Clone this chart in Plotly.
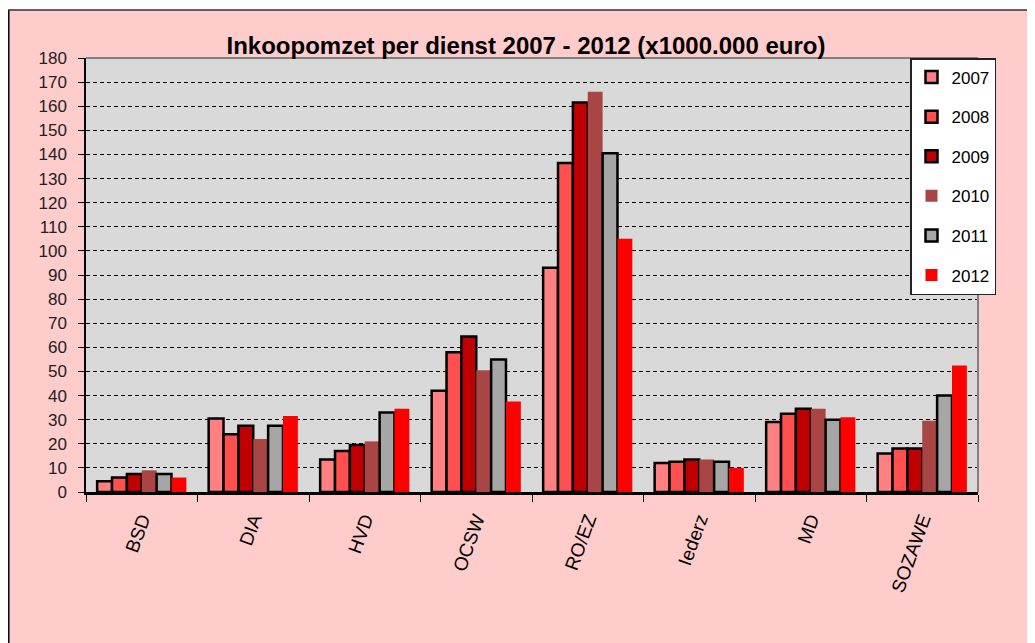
import plotly.graph_objects as go

categories = ["BSD", "DIA", "HVD", "OCSW", "RO/EZ", "Iederz", "MD", "SOZAWE"]
years = ["2007", "2008", "2009", "2010", "2011", "2012"]

v2007 = [4.5, 30.5, 13.5, 42, 93, 12, 29, 16]
v2008 = [6, 24, 17, 58, 136.5, 12.5, 32.5, 18]
v2009 = [7.5, 27.5, 19.5, 64.5, 161.5, 13.5, 34.5, 18]
v2010 = [9, 22, 21, 50.5, 166, 13.5, 34.5, 29.5]
v2011 = [7.5, 27.5, 33, 55, 140.5, 12.5, 30, 40]
v2012 = [6, 31.5, 34.5, 37.5, 105, 10, 31, 52.5]

series = [v2007, v2008, v2009, v2010, v2011, v2012]
colors = ["#FF8080", "#FF5050", "#C00000", "#A94545", "#A6A6A6", "#FF0000"]
outlined = [True, True, True, False, True, False]

ytick_vals = list(range(0, 181, 10))

# page has an 8px body margin; work in screen pixels and convert
OFF = 8
SW, SH = 1035, 643
W, H = SW - OFF, SH - OFF
SL, SR, ST, SB = 86, 978, 58, 492  # plot area in screen pixels


def px_x(p):
    return (p - SL) / (SR - SL)


def px_y(p):
    return (SB - p) / (SB - ST)


fig = go.Figure()
for i, (yr, vals) in enumerate(zip(years, series)):
    fig.add_trace(go.Bar(
        x=categories, y=vals, name=yr, legendgroup=yr,
        marker=dict(color=colors[i],
                    line=dict(color="#000000" if outlined[i] else colors[i],
                              width=2.5 if outlined[i] else 0)),
    ))

font_family = "Liberation Sans, Arial, sans-serif"

shapes = [
    dict(type="rect", xref="paper", yref="paper", x0=px_x(0), x1=px_x(1040), y0=px_y(10), y1=px_y(0),
         fillcolor="white", line=dict(width=0), layer="above"),
    dict(type="line", xref="paper", yref="paper", x0=px_x(8.8), x1=px_x(8.8), y0=px_y(650), y1=px_y(10),
         line=dict(color="black", width=1.5), layer="above"),
    dict(type="line", xref="paper", yref="paper", x0=px_x(8), x1=px_x(1040), y0=px_y(10), y1=px_y(10),
         line=dict(color="#333333", width=1.5), layer="above"),
    dict(type="line", xref="paper", yref="paper", x0=0, x1=1, y0=1, y1=1,
         line=dict(color="#808080", width=2), layer="above"),
    dict(type="line", xref="paper", yref="paper", x0=1, x1=1, y0=0, y1=1,
         line=dict(color="#808080", width=2), layer="above"),
]

fig.update_layout(
    width=W, height=H,
    margin=dict(l=SL - OFF, r=SW - SR, t=ST - OFF, b=SH - SB, pad=0),
    paper_bgcolor="#FFCCCC",
    plot_bgcolor="#D9D9D9",
    barmode="group",
    bargap=0.2,
    bargroupgap=0,
    title=dict(text="<b>Inkoopomzet per dienst 2007 - 2012 (x1000.000 euro)</b>",
               x=(526 - OFF) / W, xanchor="center", y=1 - (46 - OFF) / H, yanchor="middle",
               font=dict(family=font_family, size=24, color="black")),
    legend=dict(x=px_x(910), xanchor="left", y=1, yanchor="top",
                bgcolor="white", bordercolor="#222222", borderwidth=1.5,
                font=dict(family=font_family, size=17, color="black"),
                traceorder="grouped", tracegroupgap=14.5),
    shapes=shapes,
    showlegend=True,
)

fig.update_xaxes(
    type="category",
    showgrid=False,
    showline=True, linecolor="black", linewidth=2.5,
    ticks="outside", ticklen=7, tickcolor="black", tickwidth=1,
    tickson="boundaries",
    tickangle=-70,
    ticklabelstandoff=6,
    tickfont=dict(family=font_family, size=19, color="black"),
)
fig.update_yaxes(
    range=[0, 180],
    tickvals=ytick_vals,
    showgrid=True, gridcolor="black", gridwidth=1, griddash="4px,3px",
    zeroline=False,
    showline=True, linecolor="black", linewidth=1.5,
    ticks="outside", ticklen=6, tickcolor="black", tickwidth=1,
    ticklabelstandoff=8,
    tickfont=dict(family=font_family, size=17, color="#222222"),
)

fig.write_html("out.html")
